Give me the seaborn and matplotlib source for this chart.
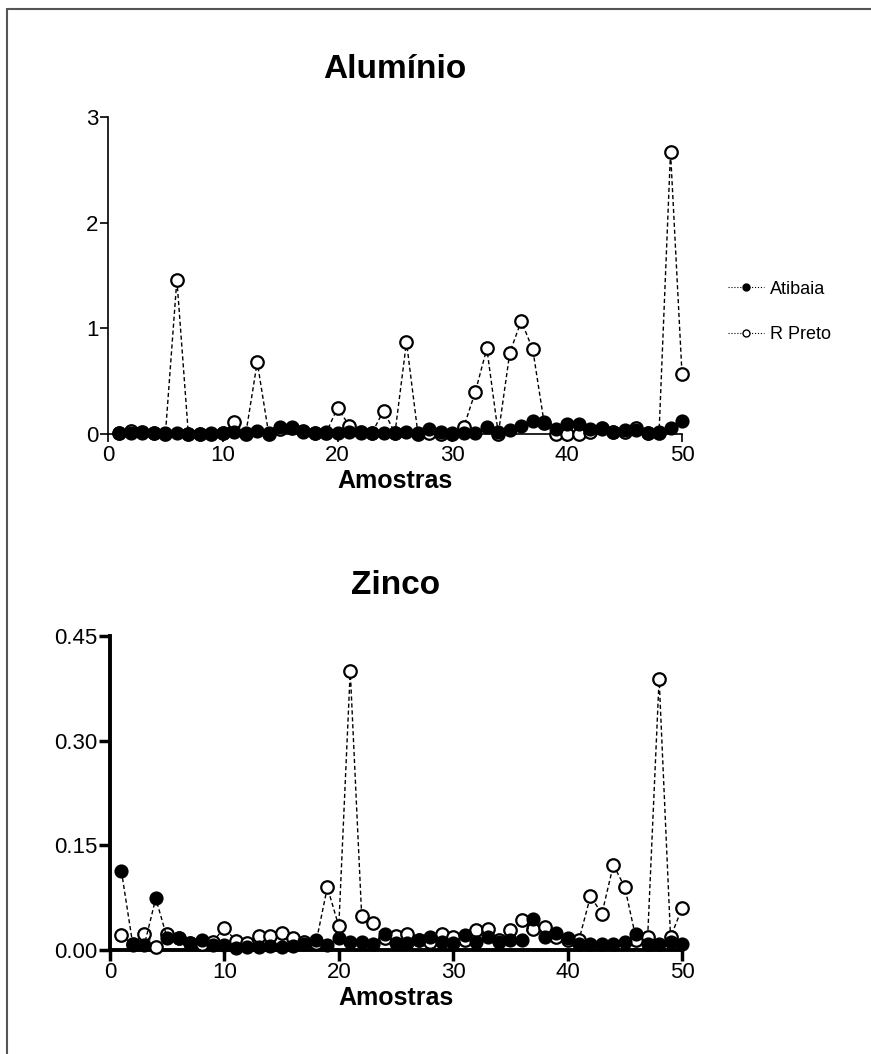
import numpy as np
import pandas as pd
import matplotlib
matplotlib.use("Agg")
import matplotlib.pyplot as plt
from matplotlib.lines import Line2D
import seaborn as sns

# sample numbers
amostras = list(range(1, 51))

# Aluminio
al_atibaia = [0.01, 0.01, 0.01, 0.01, 0.01, 0.01, 0.0, 0.0, 0.01, 0.01,
              0.02, 0.01, 0.03, 0.01, 0.07, 0.07, 0.02, 0.01, 0.02, 0.01,
              0.02, 0.01, 0.01, 0.01, 0.01, 0.02, 0.01, 0.05, 0.02, 0.01,
              0.01, 0.01, 0.07, 0.02, 0.04, 0.08, 0.12, 0.11, 0.05, 0.09,
              0.09, 0.05, 0.05, 0.02, 0.04, 0.04, 0.01, 0.02, 0.06, 0.12]
al_rpreto = [0.01, 0.03, 0.02, 0.01, 0.0, 1.46, 0.0, 0.0, 0.0, 0.01,
             0.11, 0.0, 0.68, 0.0, 0.05, 0.06, 0.03, 0.01, 0.01, 0.25,
             0.08, 0.02, 0.01, 0.22, 0.01, 0.87, 0.0, 0.01, 0.0, 0.0,
             0.07, 0.40, 0.81, 0.0, 0.77, 1.07, 0.80, 0.10, 0.0, 0.0,
             0.0, 0.02, 0.06, 0.02, 0.02, 0.06, 0.01, 0.01, 2.67, 0.57]

# Zinco
zn_atibaia = [0.113, 0.007, 0.007, 0.074, 0.017, 0.017, 0.010, 0.014, 0.007, 0.007,
              0.003, 0.004, 0.005, 0.006, 0.005, 0.006, 0.008, 0.014, 0.007, 0.017,
              0.012, 0.012, 0.008, 0.023, 0.010, 0.010, 0.014, 0.019, 0.012, 0.010,
              0.021, 0.012, 0.018, 0.012, 0.014, 0.014, 0.045, 0.019, 0.024, 0.017,
              0.008, 0.008, 0.008, 0.008, 0.012, 0.023, 0.008, 0.008, 0.012, 0.009]
zn_rpreto = [0.021, 0.008, 0.023, 0.005, 0.023, 0.017, 0.010, 0.008, 0.012, 0.032,
             0.013, 0.010, 0.020, 0.020, 0.025, 0.017, 0.012, 0.010, 0.090, 0.034,
             0.400, 0.049, 0.038, 0.017, 0.020, 0.023, 0.015, 0.012, 0.023, 0.018,
             0.014, 0.029, 0.030, 0.015, 0.028, 0.043, 0.030, 0.033, 0.019, 0.014,
             0.015, 0.077, 0.052, 0.122, 0.090, 0.015, 0.019, 0.389, 0.018, 0.060]

sns.set_style("ticks")
plt.rcParams['font.family'] = ['Liberation Sans', 'DejaVu Sans']
plt.rcParams['text.color'] = 'black'
plt.rcParams['axes.labelcolor'] = 'black'

W, H = 871, 1054
fig = plt.figure(figsize=(W / 100, H / 100), dpi=100)


def box(x0, y0, x1, y1):
    return [x0 / W, 1 - y1 / H, (x1 - x0) / W, (y1 - y0) / H]


ax1 = fig.add_axes(box(108, 117, 682, 434))
ax2 = fig.add_axes(box(110, 636, 682, 950))

dash = (0, (3, 2))


def draw(ax, atibaia, rpreto):
    df = pd.DataFrame({'Amostras': amostras, 'Atibaia': atibaia, 'R Preto': rpreto})
    sns.lineplot(data=df, x='Amostras', y='R Preto', ax=ax, color='black', lw=1,
                 linestyle=dash, marker='o', markersize=9, markerfacecolor='white',
                 markeredgecolor='black', markeredgewidth=1.6, clip_on=False, zorder=3)
    sns.lineplot(data=df, x='Amostras', y='Atibaia', ax=ax, color='black', lw=1,
                 linestyle=dash, marker='o', markersize=9, markerfacecolor='black',
                 markeredgecolor='black', markeredgewidth=1.2, clip_on=False, zorder=4)


draw(ax1, al_atibaia, al_rpreto)
draw(ax2, zn_atibaia, zn_rpreto)

# top chart
ax1.set_xlim(0, 50)
ax1.set_ylim(0, 3)
ax1.set_xticks([0, 10, 20, 30, 40, 50])
ax1.set_yticks([0, 1, 2, 3])
ax1.set_title('Alumínio', fontsize=24, fontweight='bold', pad=28)
ax1.set_xlabel('Amostras', fontsize=18, fontweight='bold', labelpad=2)
ax1.set_ylabel('')
ax1.tick_params(labelsize=16, length=6, width=1.2, colors='black')
ax1.tick_params(axis='x', pad=2)
ax1.tick_params(axis='y', pad=1)
for s in ['left', 'bottom']:
    ax1.spines[s].set_linewidth(1.2)
    ax1.spines[s].set_color('black')

# bottom chart
ax2.set_xlim(0, 50)
ax2.set_ylim(0, 0.45)
ax2.set_xticks([0, 10, 20, 30, 40, 50])
ax2.set_yticks([0, 0.15, 0.30, 0.45])
ax2.set_yticklabels(['0.00', '0.15', '0.30', '0.45'])
ax2.set_title('Zinco', fontsize=24, fontweight='bold', pad=30)
ax2.set_xlabel('Amostras', fontsize=18, fontweight='bold', labelpad=2)
ax2.set_ylabel('')
ax2.tick_params(labelsize=16, length=8, width=2.5, pad=1, colors='black')
for s in ['left', 'bottom']:
    ax2.spines[s].set_linewidth(2.8)
    ax2.spines[s].set_color('black')

sns.despine(fig=fig)

# legend
handles = [
    Line2D([], [], color='black', lw=0.8, linestyle=':', marker='o', markersize=5,
           markerfacecolor='black', markeredgecolor='black'),
    Line2D([], [], color='black', lw=0.8, linestyle=':', marker='o', markersize=5,
           markerfacecolor='white', markeredgecolor='black', markeredgewidth=1),
]
fig.legend(handles, ['Atibaia', 'R Preto'], loc='center left',
           bbox_to_anchor=(712 / W, 1 - 312 / H), frameon=False, fontsize=13,
           handlelength=2.0, handletextpad=0.3, labelspacing=1.6)

# outer frame (left and top)
fig.add_artist(Line2D([7 / W, 7 / W], [0, 1 - 9 / H], transform=fig.transFigure,
                      color='#555555', lw=1.5))
fig.add_artist(Line2D([7 / W, 1], [1 - 9 / H, 1 - 9 / H], transform=fig.transFigure,
                      color='#555555', lw=1.5))

fig.savefig('out.png', dpi=100)
